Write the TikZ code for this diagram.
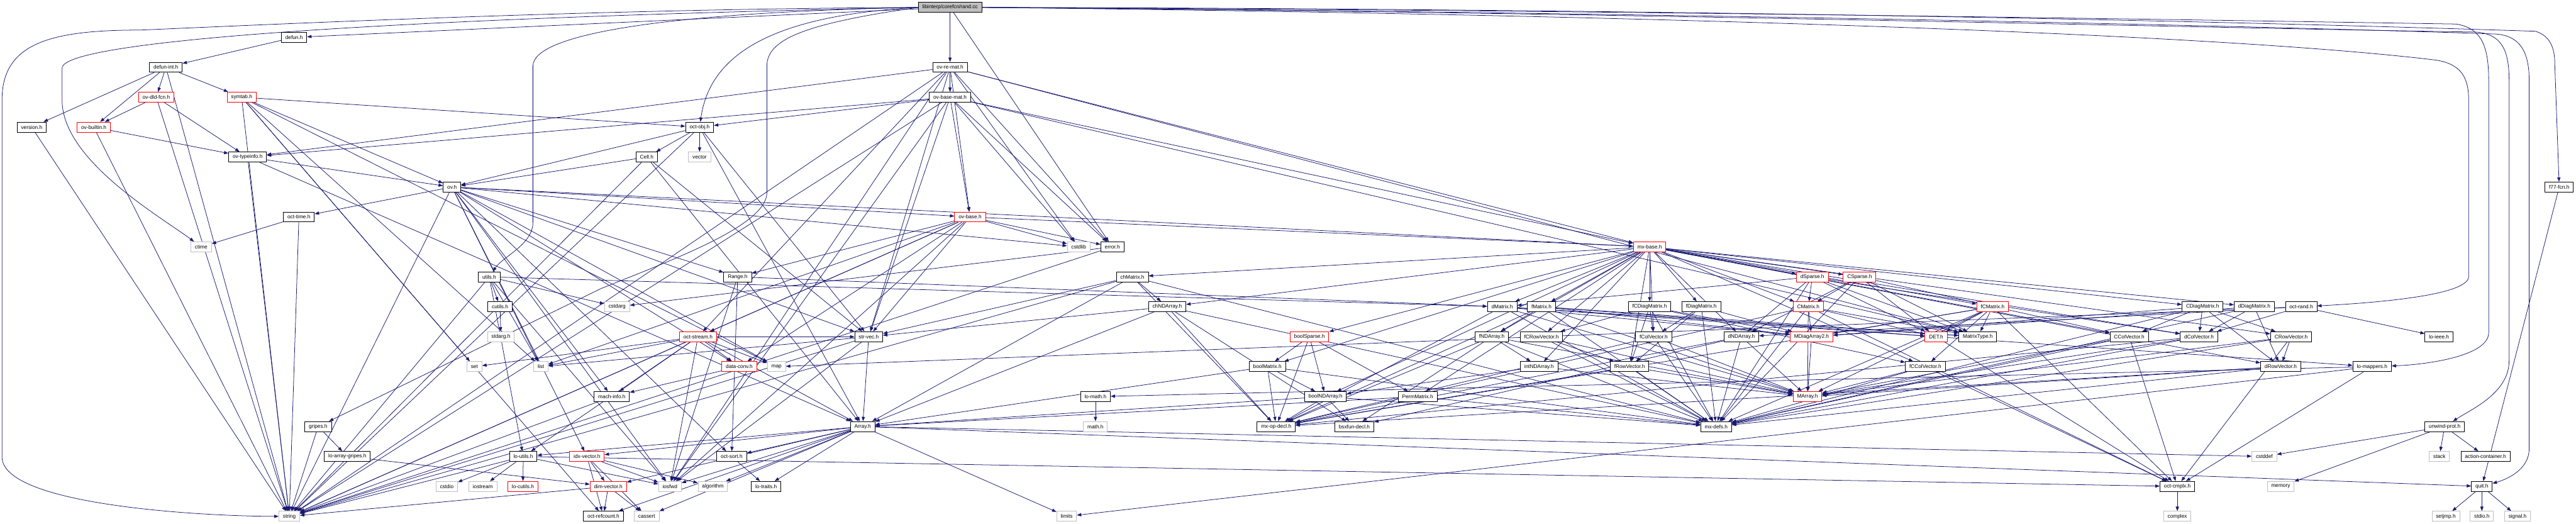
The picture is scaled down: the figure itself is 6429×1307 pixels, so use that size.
\documentclass[tikz,border=0pt]{standalone}
\usepackage{fontspec}
\setmainfont{Liberation Sans}
\usetikzlibrary{arrows.meta,backgrounds}
\definecolor{edgeblue}{HTML}{191970}
\definecolor{sysgray}{HTML}{BFBFBF}
\definecolor{rootgray}{HTML}{BFBFBF}
\tikzset{
  nbase/.style={rectangle, inner xsep=10bp, inner ysep=0bp, minimum height=25bp,
    font=\fontsize{13bp}{15bp}\selectfont, fill=white, line width=1.4bp},
  blk/.style={nbase, draw=black},
  redn/.style={nbase, draw=red},
  sys/.style={nbase, draw=sysgray},
  rootn/.style={nbase, draw=black, fill=rootgray},
  dep/.style={draw=edgeblue, line width=1.2bp, -{Triangle[length=11bp,width=8bp]}},
}
\begin{document}
\begin{tikzpicture}[x=1bp,y=-1bp]
\useasboundingbox (0,0) rectangle (6429,1307);
% r0
\node[rootn] (root) at (2371,18.5) {libinterp/corefcn/rand.cc};
% r1
\node[blk] (defun) at (734,93.2) {defun.h};
% r2
\node[blk] (defunint) at (414,167.9) {defun-int.h};
\node[blk] (ovremat) at (2371,167.9) {ov-re-mat.h};
% r3
\node[redn] (ovdld) at (390,242.6) {ov-dld-fcn.h};
\node[redn] (symtab) at (603,242.6) {symtab.h};
\node[blk] (ovbasemat) at (2371,242.6) {ov-base-mat.h};
% r4
\node[blk] (version) at (79,317.3) {version.h};
\node[redn] (ovbuiltin) at (234,317.3) {ov-builtin.h};
\node[blk] (octobj) at (1746,317.3) {oct-obj.h};
% r5
\node[blk] (ovtypeinfo) at (618,392) {ov-typeinfo.h};
\node[blk] (cell) at (1614,392) {Cell.h};
\node[sys] (vector) at (1746,392) {vector};
% r6
\node[blk] (ovh) at (1128,466.7) {ov.h};
\node[blk] (f77) at (6387,466.7) {f77-fcn.h};
% r7
\node[blk] (octtime) at (746,541.4) {oct-time.h};
\node[redn] (ovbase) at (2421,541.4) {ov-base.h};
% r8
\node[sys] (ctime) at (502,616.1) {ctime};
\node[sys] (cstdlib) at (2692,616.1) {cstdlib};
\node[blk] (errorh) at (2776,616.1) {error.h};
\node[redn] (mxbase) at (4117,616.1) {mx-base.h};
% r9
\node[blk] (utils) at (1221,690.8) {utils.h};
\node[blk] (range) at (1841,690.8) {Range.h};
\node[blk] (chmatrix) at (2826,690.8) {chMatrix.h};
\node[redn] (dsparse) at (4523,690.8) {dSparse.h};
\node[redn] (csparse) at (4641,690.8) {CSparse.h};
% r10
\node[blk] (cutils) at (1248,765.5) {cutils.h};
\node[sys] (cstdarg) at (1540,765.5) {cstdarg};
\node[blk] (chndarray) at (2913,765.5) {chNDArray.h};
\node[blk] (dmatrix) at (3749,765.5) {dMatrix.h};
\node[blk] (fmatrix) at (3847,765.5) {fMatrix.h};
\node[blk] (fcdiag) at (4117,765.5) {fCDiagMatrix.h};
\node[blk] (fdiag) at (4246,765.5) {fDiagMatrix.h};
\node[redn] (cmatrix) at (4513,765.5) {CMatrix.h};
\node[redn] (fcmatrix) at (4973,765.5) {fCMatrix.h};
\node[blk] (cdiag) at (5497,765.5) {CDiagMatrix.h};
\node[blk] (ddiag) at (5626,765.5) {dDiagMatrix.h};
\node[blk] (octrand) at (5743,765.5) {oct-rand.h};
% r11
\node[sys] (stdarg) at (1250,840.2) {stdarg.h};
\node[redn] (octstream) at (1742,840.2) {oct-stream.h};
\node[blk] (strvec) at (2168,840.2) {str-vec.h};
\node[redn] (boolsparse) at (3268,840.2) {boolSparse.h};
\node[blk] (fndarray) at (3723,840.2) {fNDArray.h};
\node[blk] (fcrowvec) at (3847,840.2) {fCRowVector.h};
\node[blk] (fcolvec) at (4127,840.2) {fColVector.h};
\node[blk] (dndarray) at (4346,840.2) {dNDArray.h};
\node[redn] (mdiag) at (4521,840.2) {MDiagArray2.h};
\node[redn] (det) at (4832,840.2) {DET.h};
\node[blk] (matrixtype) at (4936,840.2) {MatrixType.h};
\node[blk] (ccolvec) at (5314,840.2) {CColVector.h};
\node[blk] (dcolvec) at (5488,840.2) {dColVector.h};
\node[blk] (crowvec) at (5718,840.2) {CRowVector.h};
\node[blk] (loieee) at (6087,840.2) {lo-ieee.h};
% r12
\node[sys] (set) at (1184,914.9) {set};
\node[sys] (list) at (1350,914.9) {list};
\node[redn] (dataconv) at (1845,914.9) {data-conv.h};
\node[sys] (map) at (1938,914.9) {map};
\node[blk] (boolmatrix) at (3163,914.9) {boolMatrix.h};
\node[blk] (intndarray) at (3841,914.9) {intNDArray.h};
\node[blk] (frowvec) at (4067,914.9) {fRowVector.h};
\node[blk] (fccolvec) at (4805,914.9) {fCColVector.h};
\node[blk] (drowvec) at (5692,914.9) {dRowVector.h};
\node[blk] (lomappers) at (5920,914.9) {lo-mappers.h};
% r13
\node[blk] (machinfo) at (1527,989.6) {mach-info.h};
\node[blk] (lomath) at (2734,989.6) {lo-math.h};
\node[blk] (boolndarray) at (3308,989.6) {boolNDArray.h};
\node[blk] (permmatrix) at (3538,989.6) {PermMatrix.h};
\node[redn] (marray) at (4511,989.6) {MArray.h};
% r14
\node[blk] (gripes) at (794,1064.3) {gripes.h};
\node[blk] (array) at (2153,1064.3) {Array.h};
\node[sys] (mathh) at (2734,1064.3) {math.h};
\node[blk] (mxopdecl) at (3185,1064.3) {mx-op-decl.h};
\node[blk] (bsxfun) at (3380,1064.3) {bsxfun-decl.h};
\node[blk] (mxdefs) at (4283,1064.3) {mx-defs.h};
\node[blk] (unwind) at (6101,1064.3) {unwind-prot.h};
% r15
\node[blk] (loarraygripes) at (867,1139) {lo-array-gripes.h};
\node[blk] (loutils) at (1306,1139) {lo-utils.h};
\node[redn] (idxvector) at (1465,1139) {idx-vector.h};
\node[blk] (octsort) at (1826,1139) {oct-sort.h};
\node[sys] (cstddef) at (5651,1139) {cstddef};
\node[sys] (stack) at (6088,1139) {stack};
\node[blk] (actioncont) at (6203,1139) {action-container.h};
% r16
\node[sys] (cstdio) at (1115,1213.7) {cstdio};
\node[sys] (iostream) at (1205,1213.7) {iostream};
\node[redn] (locutils) at (1305,1213.7) {lo-cutils.h};
\node[redn] (dimvector) at (1518,1213.7) {dim-vector.h};
\node[sys] (iosfwd) at (1672,1213.7) {iosfwd};
\node[sys] (algorithm) at (1779,1213.7) {algorithm};
\node[blk] (lotraits) at (1912,1213.7) {lo-traits.h};
\node[blk] (octcmplx) at (5434,1213.7) {oct-cmplx.h};
\node[sys] (memory) at (5692,1213.7) {memory};
\node[blk] (quit) at (6194,1213.7) {quit.h};
% r17
\node[sys] (string) at (722,1288.4) {string};
\node[blk] (octrefcount) at (1506,1288.4) {oct-refcount.h};
\node[sys] (cassert) at (1614,1288.4) {cassert};
\node[sys] (limits) at (2662,1288.4) {limits};
\node[sys] (complex) at (5434,1288.4) {complex};
\node[sys] (setjmp) at (6104,1288.4) {setjmp.h};
\node[sys] (stdio) at (6194,1288.4) {stdio.h};
\node[sys] (signal) at (6283,1288.4) {signal.h};

\begin{pgfonlayer}{background}
% routed edges from the root
\draw[dep] (root.west) .. controls (1500,22) and (700,60) .. (350,75) .. controls (120,75) and (5,110) .. (5,250) -- (5,1140) .. controls (5,1260) and (500,1288) .. (string.west);
\draw[dep] (root.west) .. controls (1000,45) and (155,100) .. (155,170) -- (155,250) .. controls (155,400) and (400,540) .. (ctime);
\draw[dep] (root.west) .. controls (1900,40) and (1770,150) .. (octobj);
\draw[dep] (root.west) .. controls (1700,30) and (1330,80) .. (1330,165) -- (1330,555) .. controls (1330,610) and (1255,640) .. (utils);
\draw[dep] (root.west) .. controls (2000,60) and (1914,100) .. (1914,165) -- (1914,480) .. controls (1914,560) and (1700,640) .. (1500,720) -- (gripes);
\draw[dep] (root.east) .. controls (3500,20) and (5000,35) .. (6328,78) .. controls (6365,90) and (6376,120) .. (6376,160) -- (f77);
\draw[dep] (root.east) .. controls (4000,30) and (5500,60) .. (6230,85) .. controls (6290,90) and (6312,130) .. (6312,200) -- (6312,1120) .. controls (6312,1170) and (6260,1195) .. (quit);
\draw[dep] (root.east) .. controls (4000,30) and (5500,70) .. (6180,80) .. controls (6240,85) and (6262,120) .. (6262,200) -- (6262,900) .. controls (6262,980) and (6170,1020) .. (unwind);
\draw[dep] (root.east) .. controls (4000,25) and (5500,50) .. (6130,60) .. controls (6190,70) and (6211,110) .. (6211,200) -- (6211,830) .. controls (6211,890) and (6050,910) .. (lomappers);
\draw[dep] (root.east) .. controls (4000,35) and (5500,80) .. (6080,150) .. controls (6140,160) and (6161,190) .. (6161,250) -- (6161,690) .. controls (6161,740) and (5900,757) .. (octrand);
% straight edges
\foreach \a/\b in {
 root/defun, root/ovremat, root/errorh,
 defun/defunint,
 defunint/version, defunint/ovbuiltin, defunint/ovdld, defunint/symtab, defunint/string,
 version/string,
 ovbuiltin/ovtypeinfo, ovbuiltin/string,
 ovdld/ovbuiltin, ovdld/ovtypeinfo, ovdld/string,
 symtab/octobj, symtab/ovh, symtab/string, symtab/list, symtab/map, symtab/set, symtab/octrefcount,
 ovremat/ovbasemat, ovremat/ovbase, ovremat/cstdlib, ovremat/errorh, ovremat/mxbase, ovremat/strvec, ovremat/string, ovremat/iosfwd, ovremat/ovtypeinfo, ovremat/matrixtype, ovremat/octstream,
 ovbasemat/ovbase, ovbasemat/cstdlib, ovbasemat/errorh, ovbasemat/iosfwd, ovbasemat/string, ovbasemat/mxbase, ovbasemat/strvec, ovbasemat/matrixtype, ovbasemat/octobj, ovbasemat/ovtypeinfo,
 octobj/cell, octobj/vector, octobj/ovh, octobj/string, octobj/strvec, octobj/array,
 ovtypeinfo/ovh, ovtypeinfo/string, ovtypeinfo/array,
 cell/ovh, cell/array, cell/strvec, cell/string,
 ovh/octtime, ovh/string, ovh/range, ovh/dataconv, ovh/idxvector, ovh/machinfo, ovh/mxbase, ovh/strvec, ovh/octsort, ovh/ovbase, ovh/cstdlib, ovh/iosfwd, ovh/list, ovh/map,
 octtime/ctime, octtime/string,
 ovbase/cstdlib, ovbase/errorh, ovbase/iosfwd, ovbase/list, ovbase/string, ovbase/range, ovbase/dataconv, ovbase/mxbase, ovbase/strvec, ovbase/octstream,
 errorh/cstdarg, errorh/string,
 f77/quit,
 mxbase/boolmatrix, mxbase/boolndarray, mxbase/chmatrix, mxbase/chndarray, mxbase/dcolvec, mxbase/drowvec, mxbase/dmatrix, mxbase/dndarray, mxbase/ddiag, mxbase/ccolvec, mxbase/crowvec, mxbase/cmatrix, mxbase/cdiag, mxbase/fcolvec, mxbase/frowvec, mxbase/fmatrix, mxbase/fndarray, mxbase/fdiag, mxbase/fccolvec, mxbase/fcrowvec, mxbase/fcmatrix, mxbase/fcdiag, mxbase/intndarray, mxbase/permmatrix, mxbase/boolsparse, mxbase/dsparse, mxbase/csparse,
 utils/cutils, utils/cstdarg, utils/list, utils/loutils, utils/string, utils/iosfwd, utils/dmatrix,
 cutils/stdarg,
 range/iosfwd, range/dmatrix, range/octsort,
 chmatrix/chndarray, chmatrix/strvec, chmatrix/array, chmatrix/mxdefs, chmatrix/mxopdecl, chmatrix/string,
 chndarray/strvec, chndarray/array, chndarray/mxopdecl, chndarray/bsxfun, chndarray/mxdefs,
 dsparse/cmatrix, dsparse/dndarray, dsparse/det, dsparse/matrixtype, dsparse/dmatrix, dsparse/dcolvec, dsparse/mxdefs,
 csparse/cmatrix, csparse/dndarray, csparse/det, csparse/matrixtype, csparse/ccolvec, csparse/mxdefs,
 dmatrix/marray, dmatrix/mdiag, dmatrix/matrixtype, dmatrix/det, dmatrix/mxdefs, dmatrix/mxopdecl,
 fmatrix/fndarray, fmatrix/marray, fmatrix/mdiag, fmatrix/matrixtype, fmatrix/det, fmatrix/mxdefs, fmatrix/mxopdecl,
 fcdiag/fcolvec, fcdiag/fcrowvec, fcdiag/frowvec, fcdiag/fccolvec, fcdiag/mdiag, fcdiag/mxdefs,
 fdiag/fcolvec, fdiag/frowvec, fdiag/mdiag, fdiag/mxdefs,
 cmatrix/mdiag, cmatrix/marray, cmatrix/det, cmatrix/matrixtype, cmatrix/mxdefs, cmatrix/mxopdecl, cmatrix/octcmplx,
 fcmatrix/matrixtype, fcmatrix/det, fcmatrix/mdiag, fcmatrix/marray, fcmatrix/mxdefs, fcmatrix/mxopdecl, fcmatrix/octcmplx, fcmatrix/fccolvec,
 cdiag/dcolvec, cdiag/crowvec, cdiag/ccolvec, cdiag/drowvec, cdiag/mdiag, cdiag/mxdefs,
 ddiag/dcolvec, ddiag/drowvec, ddiag/mdiag, ddiag/mxdefs,
 octrand/map, octrand/dcolvec, octrand/dndarray, octrand/loieee,
 octstream/list, octstream/dataconv, octstream/map, octstream/machinfo, octstream/iosfwd, octstream/string, octstream/loutils, octstream/array, octstream/strvec, octstream/set,
 strvec/array, strvec/iosfwd, strvec/list, strvec/string,
 boolsparse/boolndarray, boolsparse/permmatrix, boolsparse/boolmatrix, boolsparse/mxopdecl,
 fndarray/intndarray, fndarray/marray, fndarray/mxdefs, fndarray/mxopdecl, fndarray/bsxfun,
 fcrowvec/frowvec, fcrowvec/marray, fcrowvec/mxdefs,
 fcolvec/marray, fcolvec/mxdefs, fcolvec/mxopdecl,
 dndarray/marray, dndarray/mxdefs, dndarray/mxopdecl, dndarray/bsxfun,
 mdiag/marray,
 det/octcmplx, det/lomappers,
 ccolvec/marray, ccolvec/mxdefs, ccolvec/octcmplx,
 dcolvec/marray, dcolvec/mxdefs, dcolvec/mxopdecl,
 crowvec/drowvec, crowvec/marray, crowvec/mxdefs, crowvec/octcmplx,
 dataconv/machinfo,
 boolmatrix/boolndarray, boolmatrix/array, boolmatrix/mxdefs, boolmatrix/mxopdecl,
 intndarray/marray, intndarray/boolndarray,
 frowvec/marray, frowvec/mxdefs, frowvec/mxopdecl,
 fccolvec/marray, fccolvec/mxdefs, fccolvec/octcmplx,
 drowvec/marray, drowvec/mxdefs, drowvec/mxopdecl,
 lomappers/octcmplx, lomappers/lomath, lomappers/limits,
 machinfo/string,
 lomath/mathh,
 boolndarray/array, boolndarray/mxdefs, boolndarray/mxopdecl, boolndarray/bsxfun,
 permmatrix/array, permmatrix/mxdefs,
 gripes/string, gripes/loarraygripes,
 array/cassert, array/cstddef, array/algorithm, array/iosfwd, array/dimvector, array/idxvector, array/lotraits, array/loutils, array/octsort, array/quit, array/octrefcount, array/limits,
 unwind/cstddef, unwind/stack, unwind/actioncont, unwind/memory,
 loarraygripes/dimvector,
 loutils/cstdio, loutils/iostream, loutils/locutils, loutils/string, loutils/octcmplx, loutils/iosfwd,
 idxvector/dimvector, idxvector/iosfwd, idxvector/algorithm, idxvector/cassert, idxvector/octrefcount,
 octsort/lotraits,
 dimvector/octrefcount, dimvector/cassert, dimvector/string,
 octcmplx/complex,
 quit/setjmp, quit/stdio, quit/signal}
 \draw[dep] (\a) -- (\b);
\end{pgfonlayer}
\end{tikzpicture}
\end{document}
